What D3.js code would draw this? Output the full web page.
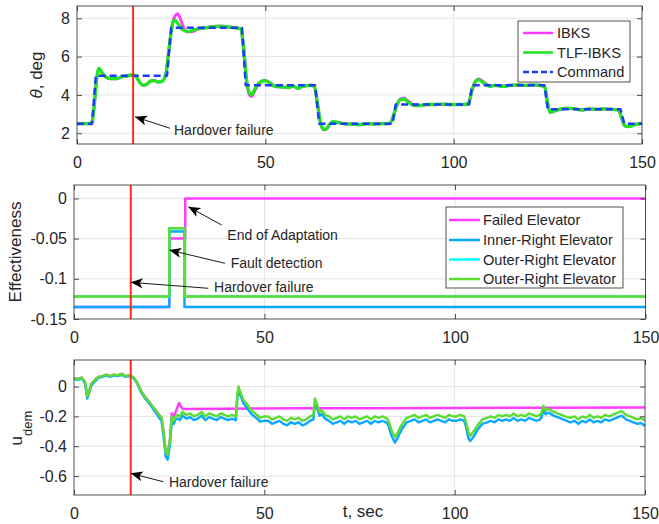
<!DOCTYPE html>
<html>
<head>
<meta charset="utf-8">
<script src="https://cdn.jsdelivr.net/npm/d3@7"></script>
<style>
body { margin: 0; background: #fff; }
text { font-family: "Liberation Sans", Arial, sans-serif; fill: #262626; }
</style>
</head>
<body>
<svg id="chart" width="659" height="524"></svg>
<script>
// ---- data ----
let xTicks = [0, 50, 100, 150]
let thetaTicks = [2, 4, 6, 8]
let effTicks = [-0.15, -0.1, -0.05, 0]
let uTicks = [-0.6, -0.4, -0.2, 0]
let failureTime = 14.9

// pitch angle, deg
let tTheta = [0, 3.8, 4.5, 5.2, 5.8, 6.5, 7.5, 9, 10.5, 12, 13.5, 14.5, 15.5, 16.5, 17.5, 18.5, 19.5, 20.5, 21.5, 22.5,
  23.6, 24.3, 25, 25.5, 26, 26.7, 27.5, 28.3, 29.3, 30.5, 32, 34, 36, 38, 40, 42, 43.5, 44.2, 45, 45.8,
  46.4, 47.2, 48.5, 49.8, 51, 52.5, 54, 56, 57.5, 58.5, 60, 62, 63, 63.8, 64.6, 65.5, 66.3, 67.2, 68, 69.5,
  71, 73, 75, 77, 79, 81, 83, 83.8, 84.8, 85.8, 86.8, 88, 89.5, 91, 93, 95, 97, 99, 101, 103,
  104, 104.8, 105.8, 106.6, 107.8, 109.5, 111, 113, 115, 117, 119, 121, 123, 124.2, 124.9, 125.6, 126.5, 128, 130, 132,
  134, 136, 138, 140, 142, 143.8, 144.6, 145.5, 146.5, 148, 150]
let thetaTLF = [2.5, 2.5, 3.3, 4.8, 5.38, 5.2, 4.95, 4.85, 4.85, 4.95, 5.0, 5.05, 5.0, 4.7, 4.5, 4.55, 4.72, 4.75, 4.68, 4.7,
  5.1, 6.2, 7.3, 7.8, 7.9, 7.75, 7.5, 7.38, 7.3, 7.35, 7.45, 7.5, 7.55, 7.58, 7.55, 7.5, 7.45, 6.5, 4.8, 4.1,
  4.02, 4.3, 4.65, 4.75, 4.65, 4.45, 4.42, 4.4, 4.45, 4.35, 4.45, 4.5, 4.45, 3.6, 2.6, 2.2, 2.25, 2.5, 2.6, 2.55,
  2.5, 2.48, 2.45, 2.5, 2.48, 2.5, 2.5, 2.8, 3.4, 3.75, 3.78, 3.6, 3.45, 3.45, 3.5, 3.5, 3.52, 3.5, 3.5, 3.5,
  3.6, 4.2, 4.7, 4.8, 4.65, 4.45, 4.5, 4.45, 4.5, 4.52, 4.5, 4.52, 4.5, 4.4, 3.6, 3.1, 3.15, 3.25, 3.3, 3.28,
  3.22, 3.27, 3.25, 3.27, 3.25, 3.2, 2.8, 2.38, 2.35, 2.45, 2.52]
let thetaIBKS = [2.5, 2.5, 3.3, 4.8, 5.38, 5.2, 4.95, 4.85, 4.85, 4.95, 5.0, 5.05, 5.0, 4.7, 4.5, 4.55, 4.72, 4.75, 4.68, 4.7,
  5.1, 6.2, 7.3, 7.85, 8.1, 8.24, 7.95, 7.5, 7.3, 7.3, 7.42, 7.5, 7.57, 7.6, 7.56, 7.5, 7.45, 6.5, 4.75, 4.0,
  3.93, 4.22, 4.62, 4.76, 4.67, 4.47, 4.42, 4.4, 4.45, 4.35, 4.45, 4.5, 4.45, 3.6, 2.6, 2.17, 2.22, 2.5, 2.6, 2.55,
  2.5, 2.48, 2.45, 2.5, 2.48, 2.5, 2.5, 2.8, 3.4, 3.78, 3.83, 3.66, 3.47, 3.45, 3.5, 3.5, 3.52, 3.5, 3.5, 3.5,
  3.6, 4.2, 4.72, 4.83, 4.7, 4.48, 4.5, 4.45, 4.5, 4.52, 4.5, 4.52, 4.5, 4.4, 3.6, 3.08, 3.13, 3.25, 3.3, 3.28,
  3.22, 3.27, 3.25, 3.27, 3.25, 3.2, 2.8, 2.38, 2.35, 2.45, 2.52]
let tCmd = [0, 4, 5, 23.9, 25, 43.8, 44.8, 63.2, 64.3, 83.8, 84.6, 104.1, 104.9, 124.1, 125, 144.3, 145.3, 150]
let thetaCmd = [2.5, 2.5, 5, 5, 7.5, 7.5, 4.5, 4.5, 2.5, 2.5, 3.5, 3.5, 4.5, 4.5, 3.25, 3.25, 2.5, 2.5]

// effectiveness
let tFailedE = [0, 25.0, 25.0, 29.2, 29.2, 150]
let failedE = [-0.135, -0.135, -0.05, -0.05, 0, 0]
let tInnerE = [0, 25.0, 25.0, 29.0, 29.0, 150]
let innerE = [-0.135, -0.135, -0.041, -0.041, -0.135, -0.135]
let tOuterE = [0, 25.0, 25.0, 29.1, 29.1, 150]
let outerE = [-0.122, -0.122, -0.037, -0.037, -0.122, -0.122]
let outer2E = [-0.122, -0.122, -0.037, -0.037, -0.122, -0.122]

// u_dem
let tU = [0, 1, 2, 2.9, 3.5, 4, 4.6, 5.5, 6.5, 7.5,
  8.5, 9.5, 10.5, 11.5, 12.5, 13.5, 14.5, 15.5, 16.5, 17.7,
  18.7, 19.7, 20.6, 21.5, 22.4, 23.0, 23.6, 24.1, 24.6, 25.2,
  25.7, 26.2, 26.7, 27.3, 27.8, 28.5, 29.5, 30.5, 31.5, 32.5,
  33.5, 34.5, 35.5, 36.5, 37.5, 38.5, 39.5, 40.5, 41.5, 42.5,
  42.9, 43.2, 43.6, 44.5, 45.5, 46.3, 47.1, 48.1, 48.9, 50,
  51, 52, 53, 54, 55, 56, 57, 58, 59, 60,
  61, 62, 62.9, 63.3, 63.7, 64.5, 65.1, 66, 67, 68,
  69, 70, 71, 72, 73, 74, 75, 76, 77, 78,
  79, 80, 81, 82, 82.6, 83.5, 84.3, 85, 86, 87.4,
  88.5, 89.5, 90.5, 91.5, 92.5, 93.5, 94.5, 95.5, 96.5, 97.5,
  98.5, 99.5, 100.5, 101.5, 102.5, 103, 103.6, 104.1, 105, 106,
  107.3, 108.5, 109.5, 110.5, 111.5, 112.5, 113.5, 114.5, 115.5, 116.5,
  117.5, 118.5, 119.5, 120.5, 121.5, 122.5, 122.9, 123.3, 123.9, 124.7,
  126, 127, 128, 129, 130.4, 131.5, 132.5, 133.5, 134.5, 135.5,
  136.5, 137.5, 138.5, 139.5, 140.5, 141.5, 142.5, 143.3, 143.9, 145,
  146, 147, 148, 149, 150]
let uOuter = [0.055, 0.05, 0.06, 0.03, -0.065, -0.03, 0.02, 0.045, 0.065, 0.07,
  0.08, 0.07, 0.08, 0.075, 0.085, 0.07, 0.075, 0.065, 0.03, -0.033,
  -0.07, -0.1, -0.133, -0.16, -0.19, -0.21, -0.32, -0.44, -0.455, -0.36,
  -0.2, -0.23, -0.2, -0.19, -0.2, -0.17, -0.19, -0.18, -0.2, -0.19,
  -0.17, -0.2, -0.18, -0.19, -0.2, -0.18, -0.19, -0.2, -0.19, -0.2,
  -0.06, 0.0, -0.03, -0.09, -0.12, -0.15, -0.17, -0.19, -0.21, -0.2,
  -0.2, -0.22, -0.21, -0.2, -0.22, -0.23, -0.21, -0.22, -0.21, -0.23,
  -0.22, -0.2, -0.19, -0.08, -0.11, -0.17, -0.16, -0.19, -0.2, -0.22,
  -0.21, -0.2, -0.22, -0.2, -0.21, -0.2, -0.22, -0.21, -0.2, -0.22,
  -0.2, -0.21, -0.2, -0.21, -0.23, -0.3, -0.34, -0.31, -0.26, -0.21,
  -0.2, -0.19, -0.21, -0.2, -0.19, -0.21, -0.2, -0.19, -0.2, -0.21,
  -0.19, -0.2, -0.2, -0.19, -0.2, -0.24, -0.31, -0.33, -0.3, -0.26,
  -0.22, -0.21, -0.2, -0.21, -0.19, -0.2, -0.19, -0.2, -0.18, -0.2,
  -0.19, -0.2, -0.18, -0.19, -0.2, -0.19, -0.17, -0.13, -0.16, -0.15,
  -0.17, -0.18, -0.19, -0.2, -0.21, -0.2, -0.22, -0.2, -0.21, -0.19,
  -0.21, -0.2, -0.21, -0.19, -0.2, -0.19, -0.18, -0.17, -0.165, -0.19,
  -0.2, -0.21, -0.22, -0.21, -0.23]
let uInner = [0.05, 0.045, 0.055, 0.02, -0.08, -0.04, 0.01, 0.035, 0.06, 0.065,
  0.075, 0.065, 0.075, 0.07, 0.08, 0.065, 0.07, 0.06, 0.025, -0.04,
  -0.08, -0.11, -0.143, -0.175, -0.21, -0.23, -0.35, -0.47, -0.49, -0.39,
  -0.22, -0.25, -0.22, -0.215, -0.225, -0.195, -0.215, -0.205, -0.225, -0.215,
  -0.195, -0.225, -0.205, -0.215, -0.225, -0.205, -0.215, -0.225, -0.215, -0.225,
  -0.08, -0.02, -0.05, -0.11, -0.145, -0.175, -0.195, -0.215, -0.235, -0.23,
  -0.23, -0.25, -0.24, -0.23, -0.25, -0.26, -0.24, -0.25, -0.24, -0.26,
  -0.25, -0.23, -0.22, -0.1, -0.13, -0.195, -0.185, -0.215, -0.23, -0.25,
  -0.24, -0.23, -0.25, -0.23, -0.24, -0.23, -0.25, -0.24, -0.23, -0.25,
  -0.23, -0.24, -0.23, -0.24, -0.26, -0.335, -0.375, -0.345, -0.29, -0.24,
  -0.23, -0.22, -0.24, -0.23, -0.22, -0.24, -0.23, -0.22, -0.23, -0.24,
  -0.22, -0.23, -0.23, -0.22, -0.23, -0.27, -0.345, -0.365, -0.335, -0.29,
  -0.25, -0.24, -0.23, -0.24, -0.22, -0.23, -0.22, -0.23, -0.21, -0.23,
  -0.22, -0.23, -0.21, -0.22, -0.23, -0.22, -0.2, -0.15, -0.185, -0.175,
  -0.195, -0.205, -0.215, -0.225, -0.24, -0.23, -0.25, -0.23, -0.24, -0.22,
  -0.24, -0.23, -0.24, -0.22, -0.23, -0.22, -0.21, -0.2, -0.195, -0.22,
  -0.23, -0.24, -0.25, -0.245, -0.265]
let tFailedU = [0, 1, 2, 2.9, 3.5, 4, 4.6, 5.5, 6.5, 7.5, 8.5, 9.5, 10.5, 11.5, 12.5, 13.5, 14.5, 15.5, 16.5, 17.7,
  18.7, 19.7, 20.6, 21.5, 22.4, 23.0, 23.6, 24.1, 24.6, 25.2, 25.7, 26.2, 26.7, 27.6, 28.0, 28.6,
  40, 60, 80, 100, 120, 150]
let uFailed = [0.055, 0.05, 0.06, 0.03, -0.065, -0.03, 0.02, 0.045, 0.065, 0.07, 0.08, 0.07, 0.08, 0.075, 0.085, 0.07, 0.075, 0.065, 0.03, -0.033,
  -0.07, -0.1, -0.133, -0.16, -0.19, -0.21, -0.32, -0.44, -0.455, -0.36, -0.18, -0.2, -0.17, -0.11, -0.13, -0.15,
  -0.148, -0.146, -0.145, -0.144, -0.142, -0.14]

// ---- colours ----
let cMagenta = "#ff3cff"
let cGreen = "#1fe61f"
let cCmd = "#1a3cff"
let cInner = "#0aa8ff"
let cCyan = "#00ffff"
let cOuter = "#5ddc34"
let cRed = "#ff2a1a"

let svg = d3.select("#chart")
let defs = svg.append("defs")
defs.append("marker").attr("id", "head")
  .attr("viewBox", "0 0 12 10").attr("refX", 12).attr("refY", 5)
  .attr("markerWidth", 12).attr("markerHeight", 10)
  .attr("markerUnits", "userSpaceOnUse").attr("orient", "auto")
  .append("path").attr("d", "M0,0 L12,5 L0,10 L3,5 Z").attr("fill", "#000")

let pTheta = {left: 77, right: 642, top: 6, bottom: 144, yDomain: [1.44, 8.64], yTicks: thetaTicks}
let pEff = {left: 74, right: 645.5, top: 185, bottom: 319, yDomain: [-0.15, 0.0167], yTicks: effTicks}
let pU = {left: 74, right: 645, top: 360, bottom: 495, yDomain: [-0.727, 0.178], yTicks: uTicks}

let setupPanel = (p) => {
  p.x = d3.scaleLinear().domain([0, 150]).range([p.left, p.right])
  p.y = d3.scaleLinear().domain(p.yDomain).range([p.bottom, p.top])
  let grid = svg.append("g").attr("stroke", "#e4e4e4").attr("stroke-width", 1)
  xTicks.filter(d => d > 0 && d < 150).forEach(d => {
    grid.append("line").attr("x1", p.x(d)).attr("x2", p.x(d)).attr("y1", p.top).attr("y2", p.bottom)
  })
  p.yTicks.filter(d => p.y(d) > p.top + 1 && p.y(d) < p.bottom - 1).forEach(d => {
    grid.append("line").attr("x1", p.left).attr("x2", p.right).attr("y1", p.y(d)).attr("y2", p.y(d))
  })
}

let drawSeries = (p, ts, vs, color, width, dash, curve) => {
  let pts = ts.map((t, i) => [t, vs[i]])
  let line = d3.line().x(d => p.x(d[0])).y(d => p.y(d[1])).curve(curve || d3.curveLinear)
  svg.append("path").datum(pts)
    .attr("d", line)
    .attr("fill", "none")
    .attr("stroke", color)
    .attr("stroke-width", width)
    .attr("stroke-linejoin", "round")
    .attr("stroke-dasharray", dash || null)
}

let drawFailure = (p) => {
  svg.append("line")
    .attr("x1", p.x(failureTime)).attr("x2", p.x(failureTime))
    .attr("y1", p.top).attr("y2", p.bottom)
    .attr("stroke", cRed).attr("stroke-width", 2)
}

let drawFrame = (p) => {
  let styleAxis = g => {
    g.select(".domain").remove()
    g.attr("font-family", null).attr("font-size", 16).attr("color", "#262626")
    g.selectAll("line").attr("stroke-width", 0.8)
  }
  svg.append("g").attr("transform", `translate(0,${p.bottom})`)
    .call(d3.axisBottom(p.x).tickValues(xTicks).tickSizeInner(-5).tickSizeOuter(0).tickPadding(12.5))
    .call(styleAxis)
  svg.append("g").attr("transform", `translate(0,${p.top})`)
    .call(d3.axisTop(p.x).tickValues(xTicks).tickSizeInner(-5).tickSizeOuter(0).tickFormat(""))
    .call(styleAxis)
  svg.append("g").attr("transform", `translate(${p.left},0)`)
    .call(d3.axisLeft(p.y).tickValues(p.yTicks).tickSizeInner(-5).tickSizeOuter(0).tickPadding(7).tickFormat(d => String(d)))
    .call(styleAxis)
  svg.append("g").attr("transform", `translate(${p.right},0)`)
    .call(d3.axisRight(p.y).tickValues(p.yTicks).tickSizeInner(-5).tickSizeOuter(0).tickFormat(""))
    .call(styleAxis)
  svg.append("rect")
    .attr("x", p.left).attr("y", p.top)
    .attr("width", p.right - p.left).attr("height", p.bottom - p.top)
    .attr("fill", "none").attr("stroke", "#262626").attr("stroke-width", 0.8)
}

let drawArrow = (p, tail, head, label, at) => {
  svg.append("line")
    .attr("x1", p.x(tail[0])).attr("y1", p.y(tail[1]))
    .attr("x2", p.x(head[0])).attr("y2", p.y(head[1]))
    .attr("stroke", "#000").attr("stroke-width", 0.9)
    .attr("marker-end", "url(#head)")
  svg.append("text")
    .attr("x", p.x(at[0])).attr("y", p.y(at[1]))
    .attr("font-size", 14)
    .text(label)
}

let drawLegend = (lx, ly, w, h, rows, lineX, textX, items) => {
  svg.append("rect").attr("x", lx).attr("y", ly).attr("width", w).attr("height", h)
    .attr("fill", "#fff").attr("stroke", "#262626").attr("stroke-width", 0.8)
  items.forEach((it, i) => {
    let yy = ly + rows[i]
    svg.append("line")
      .attr("x1", lx + lineX[0]).attr("x2", lx + lineX[1]).attr("y1", yy).attr("y2", yy)
      .attr("stroke", it.color).attr("stroke-width", it.width)
      .attr("stroke-dasharray", it.dash || null)
    svg.append("text")
      .attr("x", lx + textX).attr("y", yy).attr("dy", "0.36em")
      .attr("font-size", 14.6)
      .text(it.name)
  })
}

let yLabel = (x, y, build) => {
  let t = svg.append("text")
    .attr("transform", `translate(${x},${y}) rotate(-90)`)
    .attr("text-anchor", "middle")
    .attr("font-size", 17)
  build(t)
}

// ---- panel 1: theta ----
setupPanel(pTheta)
drawSeries(pTheta, tTheta, thetaIBKS, cMagenta, 3, null, d3.curveMonotoneX)
drawSeries(pTheta, tTheta, thetaTLF, cGreen, 3.3, null, d3.curveMonotoneX)
drawSeries(pTheta, tCmd, thetaCmd, cCmd, 2.5, "7,4")
drawFailure(pTheta)
drawFrame(pTheta)
drawArrow(pTheta, [24.7, 2.26], [15.4, 2.86], "Hardover failure", [25.75, 1.91])
drawLegend(518, 21, 112, 61, [12, 31.5, 51], [5, 35], 39, [
  {name: "IBKS", color: cMagenta, width: 2.5},
  {name: "TLF-IBKS", color: cGreen, width: 2.5},
  {name: "Command", color: cCmd, width: 2.5, dash: "6,3"}
])
yLabel(42, 75, t => {
  t.append("tspan").attr("font-style", "italic").text("θ")
  t.append("tspan").text(", deg")
})

// ---- panel 2: effectiveness ----
setupPanel(pEff)
drawSeries(pEff, tFailedE, failedE, cMagenta, 2.5)
drawSeries(pEff, tInnerE, innerE, cInner, 2.5)
drawSeries(pEff, tOuterE, outerE, cCyan, 2.5)
drawSeries(pEff, tOuterE, outer2E, cOuter, 2.5)
drawFailure(pEff)
drawFrame(pEff)
drawArrow(pEff, [38.77, -0.0331], [30.0, -0.0103], "End of Adaptation", [40.24, -0.0517])
drawArrow(pEff, [39.63, -0.0807], [25.0, -0.0642], "Fault detection", [41.13, -0.0869])
drawArrow(pEff, [35.25, -0.1118], [14.88, -0.1044], "Hardover failure", [36.75, -0.116])
drawLegend(446, 207, 177, 81, [13, 33, 52.5, 72], [3, 34], 37, [
  {name: "Failed Elevator", color: cMagenta, width: 2.5},
  {name: "Inner-Right Elevator", color: cInner, width: 2.5},
  {name: "Outer-Right Elevator", color: cCyan, width: 2.5},
  {name: "Outer-Right Elevator", color: cOuter, width: 2.5}
])
yLabel(21, 252, t => t.text("Effectiveness"))

// ---- panel 3: u_dem ----
setupPanel(pU)
drawSeries(pU, tFailedU, uFailed, cMagenta, 2.5)
drawSeries(pU, tU, uInner, cInner, 2.5)
drawSeries(pU, tU, uOuter, cOuter, 2.5)
drawFailure(pU)
drawFrame(pU)
drawArrow(pU, [23.46, -0.638], [14.9, -0.582], "Hardover failure", [24.95, -0.671])
yLabel(22, 428, t => {
  t.append("tspan").text("u")
  t.append("tspan").attr("font-size", 13).attr("dy", 10).text("dem")
})
svg.append("text")
  .attr("x", 363).attr("y", 517)
  .attr("text-anchor", "middle")
  .attr("font-size", 17)
  .text("t, sec")
</script>
</body>
</html>
